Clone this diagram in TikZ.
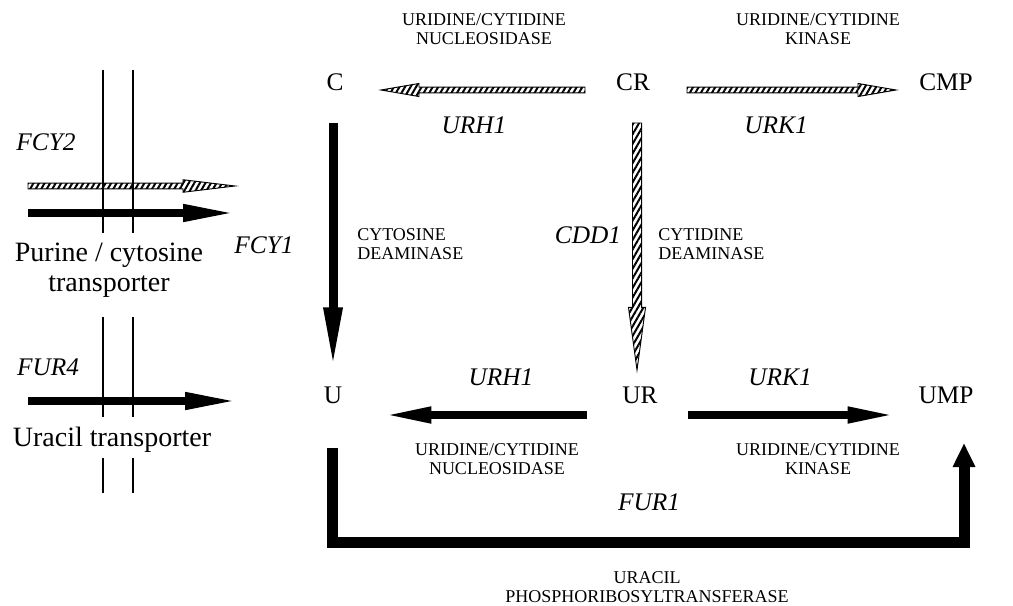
\documentclass[tikz,border=0pt]{standalone}
\usepackage{fontspec}
\setmainfont{Liberation Serif}
\usetikzlibrary{arrows.meta,calc,patterns.meta}
\tikzstyle{metab} = [font=\fontsize{19}{22}\selectfont, inner sep=0pt]
\tikzstyle{gene} = [font=\fontsize{19}{22}\selectfont\itshape, inner sep=0pt]
\tikzstyle{enzyme} = [font=\fontsize{13.5}{14.5}\selectfont, align=center, inner sep=0pt]
\tikzstyle{carrier} = [font=\fontsize{21}{22.5}\selectfont, align=center, inner sep=0pt]
\tikzstyle{membrane} = [line width=0.8pt]
\tikzstyle{solid arrow} = [line width=6pt, -{Triangle[length=37pt,width=11pt]}]
\tikzstyle{hatched} = [line width=0.7pt, pattern={Lines[angle=60,distance=3.6pt,line width=1.5pt]}]
% tail, tip, head length, head half width, shaft half width
\newcommand{\hatcharrow}[5]{
 \coordinate (ha) at (#1);
 \coordinate (hb) at (#2);
 \coordinate (hh) at ($(hb)!#3!(ha)$);
 \draw[hatched] ($(ha)!#5!90:(hb)$) -- ($(hh)!#5!90:(hb)$) -- ($(hh)!#4!90:(hb)$) -- (hb)
   -- ($(hh)!#4!-90:(hb)$) -- ($(hh)!#5!-90:(hb)$) -- ($(ha)!#5!-90:(hb)$) -- cycle;
}
\begin{document}
\begin{tikzpicture}[x=0.75pt,y=-0.75pt]
    \useasboundingbox (0,0) rectangle (1013,606);

    \node[metab] (C)   at (335,82)  {C};
    \node[metab] (CR)  at (633,82)  {CR};
    \node[metab] (CMP) at (946,82)  {CMP};
    \node[metab] (U)   at (333,395) {U};
    \node[metab] (UR)  at (640,395) {UR};
    \node[metab] (UMP) at (946,395) {UMP};

    \node[enzyme] (nuc top) at (484,29) {URIDINE/CYTIDINE\\NUCLEOSIDASE};
    \node[enzyme] (kin top) at (818,29) {URIDINE/CYTIDINE\\KINASE};
    \node[enzyme,anchor=west,align=left] (cyto deam) at (357,244) {CYTOSINE\\DEAMINASE};
    \node[enzyme,anchor=west,align=left] (cyti deam) at (658,244) {CYTIDINE\\DEAMINASE};
    \node[enzyme] (nuc bot) at (497,459) {URIDINE/CYTIDINE\\NUCLEOSIDASE};
    \node[enzyme] (kin bot) at (818,459) {URIDINE/CYTIDINE\\KINASE};
    \node[enzyme] (prt) at (647,587) {URACIL\\PHOSPHORIBOSYLTRANSFERASE};

    \node[gene] (urh top) at (474,125) {URH1};
    \node[gene] (urk top) at (776,125) {URK1};
    \node[gene] (fcy1) at (264,245) {FCY1};
    \node[gene] (cdd1) at (588,235) {CDD1};
    \node[gene] (urh bot) at (501,377) {URH1};
    \node[gene] (urk bot) at (780,377) {URK1};
    \node[gene] (fur1) at (649,502) {FUR1};
    \node[gene] (fcy2) at (46,142) {FCY2};
    \node[gene] (fur4) at (48,367) {FUR4};

    \node[carrier] (pur) at (109,270) {Purine / cytosine\\transporter};
    \node[carrier] (ura) at (112,440) {Uracil transporter};

    % membrane
    \foreach \x in {103,133}
      \draw[membrane] (\x,70) -- (\x,233) (\x,317) -- (\x,417) (\x,458) -- (\x,493);

    % uptake
    \coordinate (fcy out) at (28,186); \coordinate (fcy in) at (235,186);
    \coordinate (pur out) at (28,213); \coordinate (pur in) at (235,213);
    \coordinate (ura out) at (28,401); \coordinate (ura in) at (237,401);
    \hatcharrow{fcy out}{fcy in}{39pt}{4.7pt}{2.2pt}
    \draw[solid arrow,line width=5.6pt,-{Triangle[length=39pt,width=12pt]}] (pur out) -- (pur in);
    \draw[solid arrow,line width=5.6pt,-{Triangle[length=39pt,width=12pt]}] (ura out) -- (ura in);

    % cytidine branch
    \hatcharrow{$(CR)+(-48,8)$}{$(C)+(46,8)$}{28.5pt}{4.9pt}{2.2pt}
    \hatcharrow{$(CR)+(54,8)$}{$(CMP)+(-50,8)$}{28.5pt}{4.9pt}{2.2pt}
    \hatcharrow{$(CR)+(4,41)$}{$(UR)+(-3,-25)$}{47pt}{6.4pt}{3.4pt}
    \draw[solid arrow,line width=6.75pt,-{Triangle[length=47pt,width=12.75pt]}] ($(C)+(-2,41)$) -- ($(U)+(0,-25)$);

    % uridine branch
    \draw[solid arrow] ($(UR)+(-53,20)$) -- ($(U)+(49,20)$);
    \draw[solid arrow] ($(UR)+(48,20)$) -- ($(UMP)+(-49,20)$);
    \draw[solid arrow,line width=8.25pt,-{Triangle[length=18pt,width=15.75pt]}] ($(U)+(-1,53)$) |- ($(UMP)+(18,147)$) -- ($(UMP)+(18,48)$);
\end{tikzpicture}
\end{document}
